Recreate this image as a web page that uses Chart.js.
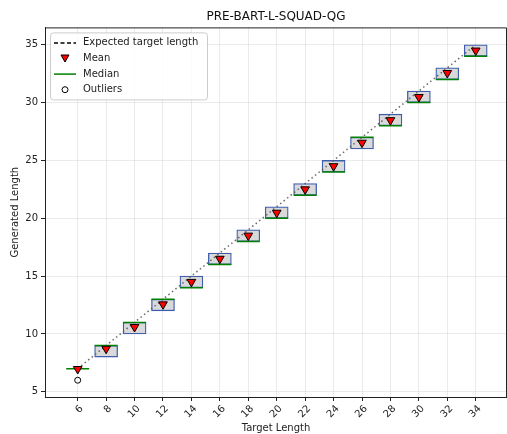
<!DOCTYPE html>
<html>
<head>
<meta charset="utf-8">
<title>PRE-BART-L-SQUAD-QG</title>
<script src="https://cdn.jsdelivr.net/npm/chart.js@4.4.1/dist/chart.umd.min.js"></script>
<style>
  html, body { margin: 0; padding: 0; background: #fff; overflow: hidden; }
  /* a bit wider than the window: the right edge of the figure is cropped like the original */
  #wrap { position: relative; width: 520px; height: 434px; }
</style>
</head>
<body>
<div id="wrap"><canvas id="lengthChart"></canvas></div>
<script>
// target lengths (x axis)
const targets = [6, 8, 10, 12, 14, 16, 18, 20, 22, 24, 26, 28, 30, 32, 34];
// box edges (first / third quartile) of the generated length
const q1 = [7, 8, 10, 12, 14, 16, 18, 20, 22, 24, 26, 28, 30, 32, 34];
const q3 = [7, 9, 11, 13, 15, 17, 19, 21, 23, 25, 27, 29, 31, 33, 35];
const medians = [7, 9, 11, 13, 14, 16, 18, 20, 22, 24, 27, 28, 30, 32, 34];
const means = [6.97, 8.72, 10.6, 12.56, 14.5, 16.5, 18.5, 20.48, 22.5, 24.5, 26.53, 28.48, 30.48, 32.56, 34.5];
// dotted reference line
const expected = [7, 9, 11, 13, 15, 17, 19, 21, 23, 25, 27, 29, 31, 33, 35];
const outlierX = [6];
const outlierY = [6];
const yTicks = [5, 10, 15, 20, 25, 30, 35];

Chart.defaults.font.family = "'DejaVu Sans', sans-serif";
Chart.defaults.font.size = 10;
Chart.defaults.color = '#222';

const boxColor = '#3f5fae';
const gridStyle = {
    color: 'rgba(0, 0, 0, 0.1)',
    lineWidth: 0.8,
    tickColor: '#222',
    tickLength: 4,
    tickWidth: 1
};

/* draws the top/right spines and the legend box inside the plot */
const frameLegend = {
    id: 'frameLegend',
    afterDraw(chart) {
        const ctx = chart.ctx;
        const a = chart.chartArea;
        ctx.save();
        ctx.strokeStyle = '#222';
        ctx.lineWidth = 1;
        ctx.beginPath();
        ctx.moveTo(a.left, a.top + 0.5);
        ctx.lineTo(a.right - 0.5, a.top + 0.5);
        ctx.lineTo(a.right - 0.5, a.bottom);
        ctx.stroke();

        // legend
        const lx = a.left + 5, ly = a.top + 5, lw = 157, lh = 67;
        ctx.beginPath();
        ctx.roundRect(lx + 0.5, ly + 0.5, lw, lh, 3);
        ctx.fillStyle = 'rgba(255,255,255,0.85)';
        ctx.fill();
        ctx.strokeStyle = '#cccccc';
        ctx.stroke();

        const items = ['Expected target length', 'Mean', 'Median', 'Outliers'];
        const mx = lx + 15, tx = lx + 33;
        ctx.font = "10px 'DejaVu Sans'";
        ctx.textBaseline = 'middle';
        ctx.fillStyle = '#222';
        items.forEach((t, i) => {
            const y = ly + 10.5 + i * 15.6;
            ctx.fillText(t, tx, y);
            if (i === 0) {
                ctx.strokeStyle = '#000';
                ctx.lineWidth = 1.5;
                ctx.setLineDash([4, 2.5]);
                ctx.beginPath();
                ctx.moveTo(mx - 11, y);
                ctx.lineTo(mx + 11, y);
                ctx.stroke();
                ctx.setLineDash([]);
            } else if (i === 1) {
                ctx.beginPath();
                ctx.moveTo(mx - 4, y - 3.5);
                ctx.lineTo(mx + 4, y - 3.5);
                ctx.lineTo(mx, y + 3.5);
                ctx.closePath();
                ctx.fillStyle = 'red';
                ctx.fill();
                ctx.strokeStyle = '#000';
                ctx.lineWidth = 1;
                ctx.stroke();
                ctx.fillStyle = '#222';
            } else if (i === 2) {
                ctx.strokeStyle = 'green';
                ctx.lineWidth = 1.5;
                ctx.beginPath();
                ctx.moveTo(mx - 11, y);
                ctx.lineTo(mx + 11, y);
                ctx.stroke();
            } else {
                ctx.strokeStyle = '#000';
                ctx.lineWidth = 1;
                ctx.beginPath();
                ctx.arc(mx, y, 3, 0, Math.PI * 2);
                ctx.stroke();
            }
        });
        ctx.restore();
    }
};

const ctx = document.getElementById('lengthChart').getContext('2d');
const lengthChart = new Chart(ctx, {
    type: 'bar',
    data: {
        datasets: [
            {
                type: 'scatter',
                label: 'Mean',
                data: targets.map((x, i) => ({ x: x, y: means[i] })),
                pointStyle: 'triangle',
                rotation: 180,
                radius: 5,
                backgroundColor: 'red',
                borderColor: '#000',
                borderWidth: 1,
                order: 0
            },
            {
                type: 'scatter',
                label: 'Outliers',
                data: outlierX.map((x, i) => ({ x: x, y: outlierY[i] })),
                pointStyle: 'circle',
                radius: 3,
                backgroundColor: 'rgba(0,0,0,0)',
                borderColor: '#000',
                borderWidth: 1,
                order: 1
            },
            {
                type: 'scatter',
                label: 'Median',
                data: targets.map((x, i) => ({ x: x, y: medians[i] })),
                pointStyle: 'line',
                radius: 11.5,
                borderColor: 'green',
                borderWidth: 1.5,
                order: 2
            },
            {
                type: 'line',
                label: 'Expected target length',
                data: targets.map((x, i) => ({ x: x, y: expected[i] })),
                borderColor: 'rgba(90, 90, 90, 0.9)',
                borderWidth: 1.5,
                borderDash: [1.5, 3],
                pointRadius: 0,
                fill: false,
                order: 3
            },
            {
                type: 'bar',
                label: 'Box',
                data: targets.map((x, i) => ({ x: x, y: [q1[i], q3[i]] })),
                backgroundColor: '#d9d9d9',
                borderColor: boxColor,
                borderWidth: 1.3,
                borderSkipped: false,
                barThickness: 23,
                order: 4
            }
        ]
    },
    options: {
        responsive: true,
        maintainAspectRatio: false,
        animation: false,
        layout: { padding: { left: 0, right: 1, top: 0, bottom: 0 } },
        plugins: {
            legend: { display: false },
            tooltip: { enabled: false },
            title: {
                display: true,
                fullSize: false,
                text: 'PRE-BART-L-SQUAD-QG',
                font: { size: 12, weight: 'normal' },
                color: '#111',
                padding: { top: 10, bottom: 3 }
            }
        },
        scales: {
            x: {
                type: 'linear',
                min: 3.7,
                max: 36.2,
                offset: false,
                grid: Object.assign({ offset: false }, gridStyle),
                border: { display: true, color: '#222', width: 1, dash: [] },
                afterBuildTicks: (scale) => { scale.ticks = targets.map(v => ({ value: v })); },
                afterFit: (scale) => { scale.height = 37; },
                ticks: {
                    minRotation: 45,
                    maxRotation: 45,
                    padding: 2,
                    labelOffset: 4,
                    color: '#222'
                },
                title: {
                    display: true,
                    text: 'Target Length',
                    font: { size: 10 },
                    color: '#222',
                    padding: { top: 0, bottom: 0 }
                }
            },
            y: {
                type: 'linear',
                min: 4.55,
                max: 36.5,
                grid: gridStyle,
                border: { display: true, color: '#222', width: 1 },
                afterBuildTicks: (scale) => { scale.ticks = yTicks.map(v => ({ value: v })); },
                afterFit: (scale) => { scale.width = 45; },
                ticks: { padding: 3, color: '#222' },
                title: {
                    display: true,
                    text: 'Generated Length',
                    font: { size: 10 },
                    color: '#222',
                    padding: { top: 9, bottom: 0 }
                }
            }
        }
    },
    plugins: [frameLegend]
});
</script>
</body>
</html>
